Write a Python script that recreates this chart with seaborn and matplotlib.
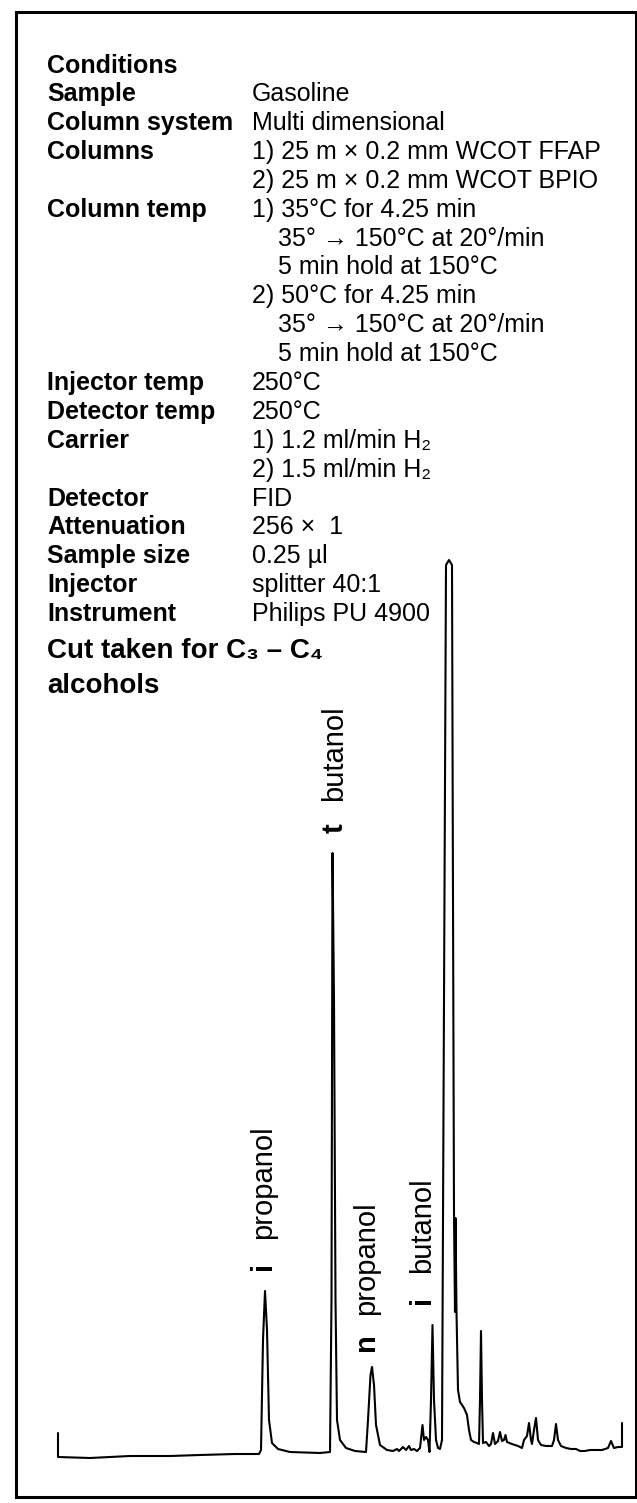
import numpy as np
import pandas as pd
import matplotlib.pyplot as plt
import matplotlib.transforms as mtransforms
from matplotlib.patches import Rectangle
import seaborn as sns

W, H = 637, 1503  # output size in px (dpi 100)

# Run conditions (left column bold, right column regular)
cond_labels = ['Conditions', 'Sample', 'Column system', 'Columns', '', 'Column temp',
               '', '', '', '', '', 'Injector temp', 'Detector temp', 'Carrier', '',
               'Detector', 'Attenuation', 'Sample size', 'Injector', 'Instrument']
cond_values = ['', 'Gasoline', 'Multi dimensional', '1) 25 m × 0.2 mm WCOT FFAP',
               '2) 25 m × 0.2 mm WCOT BPIO', '1) 35°C for 4.25 min',
               '35° → 150°C at 20°/min', '5 min hold at 150°C', '2) 50°C for 4.25 min',
               '35° → 150°C at 20°/min', '5 min hold at 150°C', '250°C', '250°C',
               '1) 1.2 ml/min H₂', '2) 1.5 ml/min H₂', 'FID', '256 ×  1', '0.25 µl',
               'splitter 40:1', 'Philips PU 4900']
cond_indent = [0, 0, 0, 0, 0, 0, 1, 1, 0, 1, 1, 0, 0, 0, 0, 0, 0, 0, 0, 0]
cut_title = ['Cut taken for C₃ – C₄', 'alcohols']

# Chromatogram trace: distance along chart (cm), pen deflection (cm)
ret_time = [0, 0, 3.2, 7.2, 11.2, 14.2, 17.7, 20.1, 20.3, 20.5, 20.7, 20.9, 21.1, 21.4,
            22.0, 23.2, 26.2, 27.2, 27.35, 27.45, 27.6, 27.75, 27.9, 28.2, 28.8, 29.7,
            30.8, 31.0, 31.25, 31.4, 31.6, 31.8, 32.2, 32.9, 33.5, 33.9, 34.1, 34.5,
            34.8, 35.1, 35.3, 35.6, 35.9, 36.2, 36.45, 36.6, 36.8, 37.0, 37.15, 37.3,
            37.45, 37.6, 37.8, 38.0, 38.2, 38.4, 38.6, 38.8, 39.1, 39.4, 39.5, 39.6,
            39.7, 39.75, 39.85, 40.0, 40.2, 40.6, 40.9, 41.1, 41.3, 41.6, 41.9, 42.1,
            42.2, 42.3, 42.4, 42.5, 42.8, 43.1, 43.3, 43.5, 43.7, 44.0, 44.2, 44.4,
            44.6, 44.75, 44.9, 45.4, 46.0, 46.4, 46.6, 46.9, 47.1, 47.3, 47.4, 47.6,
            47.8, 48.0, 48.3, 48.8, 49.4, 49.6, 49.8, 50.0, 50.3, 50.8, 51.3, 51.8,
            52.2, 52.7, 53.2, 53.9, 54.4, 55.0, 55.3, 55.6, 56.0, 56.4, 56.4]
response = [2.4, 0, -0.1, 0.1, 0.1, 0.2, 0.3, 0.3, 0.7, 11.7, 16.6, 12.7, 3.7, 1.4,
            0.8, 0.5, 0.4, 0.5, 15.7, 60.4, 45.7, 15.7, 3.7, 1.7, 0.9, 0.6,
            0.5, 3.7, 8.2, 9.0, 7.2, 3.2, 1.2, 0.7, 0.6, 0.8, 0.6, 1.0,
            0.7, 1.1, 0.7, 0.8, 0.6, 0.9, 3.2, 1.7, 2.0, 1.7, 0.5, 5.7,
            13.2, 5.7, 1.7, 0.9, 0.8, 1.7, 45.7, 89.2, 89.7, 89.2, 55.7, 24.2,
            14.5, 23.9, 14.5, 6.7, 5.5, 4.9, 4.2, 2.7, 1.7, 1.5, 1.4, 1.3,
            5.7, 12.6, 5.7, 1.4, 1.5, 1.1, 1.3, 2.4, 1.3, 1.6, 2.5, 1.6,
            1.7, 2.2, 1.5, 1.3, 1.1, 0.9, 1.7, 2.1, 3.4, 1.7, 1.3, 2.7,
            3.9, 1.7, 1.2, 1.1, 1.1, 1.7, 3.3, 1.7, 1.1, 0.9, 0.8, 0.8,
            0.6, 0.6, 0.7, 0.7, 0.7, 0.9, 1.6, 0.9, 1.0, 1.0, 3.4]

# Identified peaks
peak_prefix = ['i', 't', 'n', 'i']
peak_name = ['propanol', 'butanol', 'propanol', 'butanol']
peak_time = [20.7, 27.45, 31.4, 37.45]
peak_height = [16.6, 60.4, 9.0, 13.2]
label_dx = [-2, 2, -6, -10]  # px shift of label from apex

trace = pd.DataFrame({'time': ret_time, 'signal': response})

sns.set_theme(style='white')
plt.rcParams['font.family'] = ['Liberation Sans', 'DejaVu Sans']

fig = plt.figure(figsize=(W / 100, H / 100), dpi=100)
fig.patch.set_facecolor('white')


def fx(x):
    return x / W


def fy(y):
    return 1 - y / H


# outer frame
fig.add_artist(Rectangle((fx(16), fy(1497)), fx(636) - fx(16), fy(12) - fy(1497),
                         transform=fig.transFigure, fill=False, lw=2.2, ec='black'))

# conditions block
for k, (lab, val, ind) in enumerate(zip(cond_labels, cond_values, cond_indent)):
    yc = 64 if k == 0 else 92 + (k - 1) * 28.9
    if lab:
        fig.text(fx(47), fy(yc + 9), lab, fontsize=18, fontweight='bold',
                 ha='left', va='baseline', color='black')
    if val:
        fig.text(fx(278 if ind else 252), fy(yc + 9), val, fontsize=18,
                 ha='left', va='baseline', color='black')

for j, line in enumerate(cut_title):
    fig.text(fx(47), fy(648 + j * 35 + 10), line, fontsize=20, fontweight='bold',
             ha='left', va='baseline', color='black')

# chromatogram
ax = fig.add_axes([fx(58), fy(1457), fx(622) - fx(58), fy(560) - fy(1457)])
sns.lineplot(data=trace, x='time', y='signal', sort=False, estimator=None,
             color='black', lw=1.5, ax=ax)
ax.set_xlim(0, 56.4)
ax.set_ylim(0, 89.7)
ax.set_axis_off()
for ln in ax.lines:
    ln.set_clip_on(False)

for pre, name, t, h, dx in zip(peak_prefix, peak_name, peak_time, peak_height, label_dx):
    tr_pre = mtransforms.offset_copy(ax.transData, fig=fig, x=dx, y=25, units='dots')
    tr_name = mtransforms.offset_copy(ax.transData, fig=fig, x=dx, y=52, units='dots')
    ax.text(t, h, pre, transform=tr_pre, rotation=90, fontsize=21, fontweight='bold',
            ha='center', va='center', color='black')
    ax.text(t, h, name, transform=tr_name, rotation=90, fontsize=21,
            ha='center', va='bottom', color='black')

fig.savefig('out.png', dpi=100, facecolor='white')
